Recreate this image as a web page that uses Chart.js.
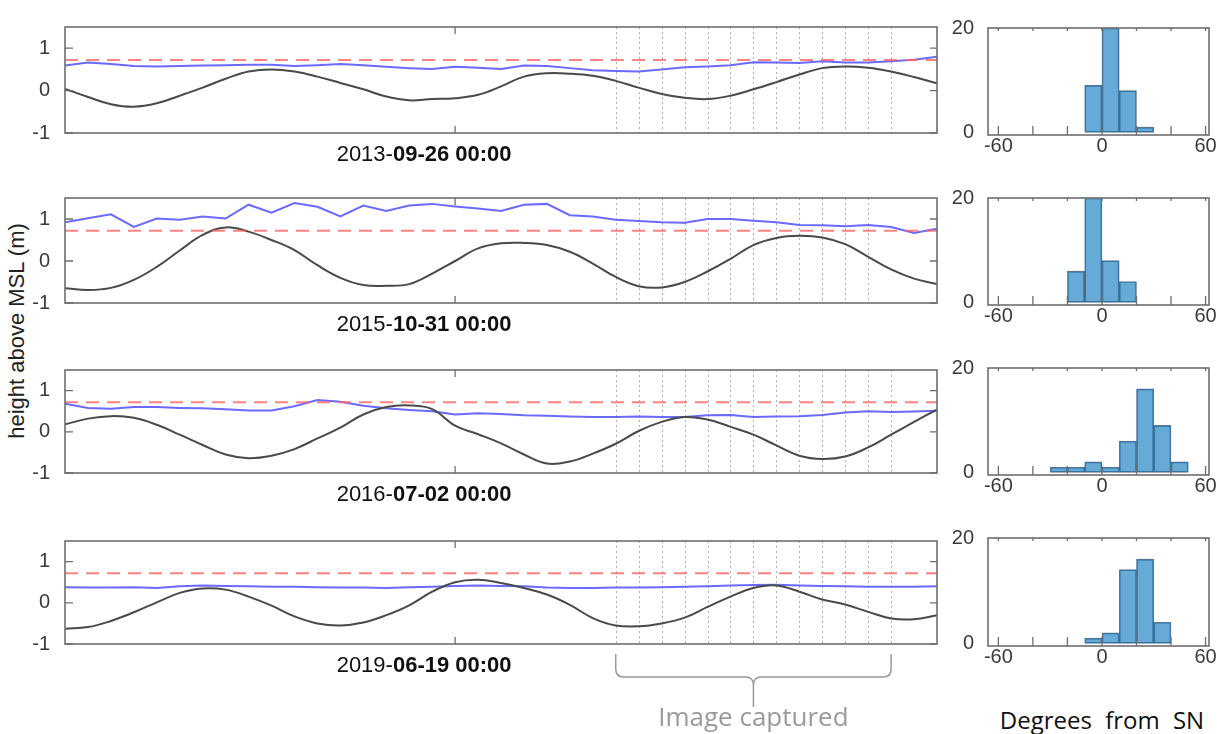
<!DOCTYPE html>
<html>
<head>
<meta charset="utf-8">
<script src="https://cdn.jsdelivr.net/npm/chart.js@4"></script>
<style>
  body { margin: 0; background: #fff; width: 1217px; height: 734px; overflow: hidden; position: relative;
         font-family: "Liberation Sans", Arial, sans-serif; }
  canvas { position: absolute; }
  #ylabel { position: absolute; left: 17px; top: 331px; transform: translate(-50%, -50%) rotate(-90deg);
            white-space: nowrap; font-size: 22px; color: #222; }
  #xlabel { position: absolute; left: 1102px; top: 719px; transform: translate(-50%, -50%);
            white-space: nowrap; font-family: "Open Sans", sans-serif; font-size: 24px; word-spacing: 7px; color: #111; }
</style>
</head>
<body>
<div id="ylabel">height above MSL (m)</div>
<div id="xlabel">Degrees from SN</div>
<script>
// --- data (hours from the start of each window) ---
const hours = [0,1,2,3,4,5,6,7,8,9,10,11,12,13,14,15,16,17,18,19,20,21,22,23,24,25,26,27,28,29,30,31,32,33,34,35,36,37,38];

const tide2013 = [0.04,-0.15,-0.32,-0.38,-0.30,-0.12,0.07,0.28,0.45,0.50,0.45,0.33,0.18,0.03,-0.14,-0.23,-0.20,-0.18,-0.10,0.10,0.33,0.41,0.40,0.35,0.23,0.07,-0.08,-0.17,-0.20,-0.12,0.03,0.20,0.38,0.53,0.57,0.54,0.45,0.32,0.17];
const twl2013  = [0.59,0.66,0.63,0.58,0.57,0.58,0.59,0.60,0.61,0.61,0.58,0.60,0.63,0.60,0.56,0.53,0.51,0.56,0.54,0.51,0.59,0.58,0.53,0.48,0.46,0.45,0.50,0.55,0.57,0.60,0.67,0.66,0.65,0.69,0.66,0.66,0.69,0.73,0.80];

const tide2015 = [-0.65,-0.69,-0.64,-0.45,-0.14,0.25,0.62,0.80,0.70,0.50,0.26,-0.10,-0.40,-0.57,-0.59,-0.55,-0.30,0.00,0.30,0.42,0.43,0.38,0.22,-0.06,-0.38,-0.60,-0.63,-0.50,-0.25,0.05,0.38,0.55,0.60,0.56,0.40,0.10,-0.20,-0.42,-0.55];
const twl2015  = [0.92,1.02,1.11,0.81,1.01,0.98,1.06,1.01,1.34,1.15,1.38,1.29,1.06,1.32,1.19,1.32,1.36,1.30,1.25,1.19,1.34,1.36,1.09,1.06,0.98,0.95,0.92,0.91,1.00,1.00,0.96,0.92,0.86,0.85,0.83,0.86,0.81,0.67,0.77];

const tide2016 = [0.18,0.32,0.38,0.34,0.17,-0.07,-0.32,-0.55,-0.64,-0.58,-0.42,-0.16,0.10,0.42,0.60,0.64,0.55,0.15,-0.06,-0.28,-0.55,-0.77,-0.72,-0.53,-0.29,0.02,0.24,0.36,0.30,0.12,-0.07,-0.33,-0.58,-0.66,-0.60,-0.38,-0.07,0.24,0.54];
const twl2016  = [0.68,0.58,0.56,0.60,0.60,0.58,0.57,0.55,0.52,0.52,0.62,0.77,0.73,0.63,0.57,0.53,0.50,0.42,0.45,0.43,0.40,0.39,0.37,0.36,0.36,0.37,0.36,0.36,0.40,0.41,0.36,0.37,0.38,0.41,0.47,0.50,0.48,0.49,0.51];

const tide2019 = [-0.63,-0.59,-0.44,-0.23,0.01,0.24,0.35,0.32,0.15,-0.07,-0.33,-0.50,-0.55,-0.48,-0.30,-0.06,0.27,0.50,0.56,0.48,0.36,0.20,-0.05,-0.37,-0.55,-0.57,-0.50,-0.36,-0.10,0.15,0.36,0.42,0.27,0.08,-0.04,-0.22,-0.38,-0.40,-0.30];
const twl2019  = [0.38,0.37,0.37,0.38,0.36,0.40,0.42,0.41,0.40,0.39,0.39,0.38,0.37,0.37,0.36,0.38,0.39,0.41,0.42,0.41,0.40,0.37,0.36,0.36,0.37,0.37,0.38,0.39,0.40,0.42,0.43,0.44,0.42,0.41,0.40,0.39,0.39,0.39,0.40];

const threshold = 0.72;
const dateTick = 17;
const yTicks = [-1, 0, 1];
const capture13 = [24,25,26,27,28,29,30,31,32,33,34,35,36];
const capture12 = [24,25,26,27,28,29,30,31,32,33,34,35];
const dateYears = ['2013-', '2015-', '2016-', '2019-'];
const dateDays = ['09-26 00:00', '10-31 00:00', '07-02 00:00', '06-19 00:00'];

// histograms: bin centres (deg) and counts
const binCentres2013 = [-5, 5, 15, 25];
const counts2013 = [9, 20, 8, 1];
const binCentres2015 = [-15, -5, 5, 15];
const counts2015 = [6, 20, 8, 4];
const binCentres2016 = [-25, -15, -5, 5, 15, 25, 35, 45];
const counts2016 = [1, 1, 2, 1, 6, 16, 9, 2];
const binCentres2019 = [-5, 5, 15, 25, 35];
const counts2019 = [1, 2, 14, 16, 4];
const histTicks = [-60, -40, -20, 0, 20, 40, 60];
const histLabels = [-60, 0, 60];
const histYTicks = [0, 20];

const tides = [tide2013, tide2015, tide2016, tide2019];
const twls = [twl2013, twl2015, twl2016, twl2019];
const captures = [capture13, capture12, capture13, capture13];
const histX = [binCentres2013, binCentres2015, binCentres2016, binCentres2019];
const histY = [counts2013, counts2015, counts2016, counts2019];

// --- layout (page pixels) ---
const seriesTop = [18, 189, 361, 532], seriesBottom = [133, 303, 473, 644];
const histTop = [23, 193, 363, 533], histBottom = [135, 305, 475, 646];

Chart.defaults.font.family = '"Liberation Sans", Arial, sans-serif';
Chart.defaults.font.size = 20;
Chart.defaults.color = '#3a3a3a';

function addCanvas(left, top, w, h) {
  const c = document.createElement('canvas');
  c.width = w; c.height = h;
  c.style.left = left + 'px'; c.style.top = top + 'px';
  c.style.width = w + 'px'; c.style.height = h + 'px';
  document.body.appendChild(c);
  return c;
}

// box + inward ticks, matlab style
const frameTicks = {
  id: 'frameTicks',
  afterDatasetsDraw(chart, args, o) {
    const { ctx, chartArea: a, scales: { x, y } } = chart;
    ctx.save();
    ctx.strokeStyle = '#6e6e6e';
    ctx.lineWidth = 1.3;
    ctx.beginPath();
    x.ticks.forEach(t => {
      const px = x.getPixelForValue(t.value);
      ctx.moveTo(px, a.bottom); ctx.lineTo(px, a.bottom - o.xBottom);
      ctx.moveTo(px, a.top); ctx.lineTo(px, a.top + o.xTop);
    });
    if (o.yLeft) y.ticks.forEach(t => {
      const py = y.getPixelForValue(t.value);
      ctx.moveTo(a.left, py); ctx.lineTo(a.left + o.yLeft, py);
      ctx.moveTo(a.right, py); ctx.lineTo(a.right - o.yRight, py);
    });
    ctx.stroke();
    ctx.lineWidth = 1.6;
    ctx.strokeRect(a.left, a.top, a.right - a.left, a.bottom - a.top);
    ctx.restore();
  }
};

const captureLines = {
  id: 'captureLines',
  beforeDatasetsDraw(chart, args, o) {
    const { ctx, chartArea: a, scales: { x } } = chart;
    ctx.save();
    ctx.strokeStyle = '#b0b0b0';
    ctx.lineWidth = 1;
    ctx.setLineDash([2, 3]);
    o.hours.forEach(h => {
      const px = Math.round(x.getPixelForValue(h)) + 0.5;
      ctx.beginPath(); ctx.moveTo(px, a.top); ctx.lineTo(px, a.bottom); ctx.stroke();
    });
    ctx.restore();
  }
};

const dateLabel = {
  id: 'dateLabel',
  afterDraw(chart, args, o) {
    const { ctx, chartArea: a, scales: { x } } = chart;
    const cx = x.getPixelForValue(dateTick) - 31;
    const cy = a.bottom + 22;
    const fam = '"Liberation Sans", Arial, sans-serif';
    ctx.save();
    ctx.font = '22px ' + fam;
    const w1 = ctx.measureText(o.year).width;
    ctx.font = 'bold 22px ' + fam;
    const w2 = ctx.measureText(o.day).width;
    const left = cx - (w1 + w2) / 2;
    ctx.fillStyle = '#111';
    ctx.textBaseline = 'middle';
    ctx.font = '22px ' + fam;
    ctx.fillText(o.year, left, cy);
    ctx.font = 'bold 22px ' + fam;
    ctx.fillText(o.day, left + w1, cy);
    ctx.restore();
  }
};

const bracket = {
  id: 'bracket',
  afterDraw(chart, args, o) {
    const { ctx, chartArea: a, scales: { x } } = chart;
    const x0 = x.getPixelForValue(o.from), x1 = x.getPixelForValue(o.to);
    const xm = (x0 + x1) / 2;
    const yTop = a.bottom + 10, yMid = a.bottom + 33, yEnd = a.bottom + 63, r = 8;
    ctx.save();
    ctx.strokeStyle = '#9a9a9a';
    ctx.lineWidth = 1.5;
    ctx.beginPath();
    ctx.moveTo(x0, yTop); ctx.lineTo(x0, yMid - r); ctx.quadraticCurveTo(x0, yMid, x0 + r, yMid);
    ctx.lineTo(xm - r, yMid); ctx.quadraticCurveTo(xm, yMid, xm, yMid + r); ctx.lineTo(xm, yEnd);
    ctx.moveTo(x1, yTop); ctx.lineTo(x1, yMid - r); ctx.quadraticCurveTo(x1, yMid, x1 - r, yMid);
    ctx.lineTo(xm + r, yMid); ctx.quadraticCurveTo(xm, yMid, xm, yMid + r);
    ctx.stroke();
    ctx.fillStyle = '#9a9a9a';
    ctx.font = '26px "Open Sans", sans-serif';
    ctx.textAlign = 'center';
    ctx.textBaseline = 'middle';
    ctx.fillText(o.text, xm, a.bottom + 75);
    ctx.restore();
  }
};

function seriesChart(i) {
  const top = seriesTop[i] - 10;
  const height = i === 3 ? 734 - top : 170;
  const areaH = seriesBottom[i] - seriesTop[i];
  const cv = addCanvas(0, top, 945, height);
  const pts = arr => hours.map((h, k) => ({ x: h, y: arr[k] }));
  new Chart(cv, {
    type: 'line',
    data: {
      datasets: [
        { data: [{ x: hours[0], y: threshold }, { x: hours[hours.length - 1], y: threshold }],
          borderColor: 'rgba(255,100,100,0.8)', borderDash: [13, 8], borderWidth: 2, pointRadius: 0 },
        { data: pts(tides[i]), borderColor: '#4a4a4a', borderWidth: 2, tension: 0.4, pointRadius: 0 },
        { data: pts(twls[i]), borderColor: 'rgba(80,80,255,0.85)', borderWidth: 2, tension: 0, pointRadius: 0 }
      ]
    },
    options: {
      responsive: false, animation: false, devicePixelRatio: 1,
      layout: { padding: { top: 10, right: 8, left: 0, bottom: 0 } },
      plugins: {
        legend: { display: false }, tooltip: { enabled: false },
        frameTicks: { xBottom: 7, xTop: 7, yLeft: 8, yRight: 7 },
        captureLines: { hours: captures[i] },
        dateLabel: { year: dateYears[i], day: dateDays[i] },
        bracket: { from: capture13[0], to: capture13[capture13.length - 1], text: 'Image captured' }
      },
      scales: {
        x: {
          type: 'linear', min: 0, max: 38,
          grid: { display: false }, border: { display: false }, ticks: { display: false },
          afterBuildTicks: s => { s.ticks = [{ value: dateTick }]; },
          afterFit: s => { s.height = height - 10 - areaH; }
        },
        y: {
          min: -1, max: 1.5,
          grid: { display: false }, border: { display: false },
          ticks: { padding: 7 },
          afterBuildTicks: s => { s.ticks = yTicks.map(v => ({ value: v })); },
          afterFit: s => { s.width = 65; }
        }
      }
    },
    plugins: i === 3 ? [captureLines, frameTicks, dateLabel, bracket] : [captureLines, frameTicks, dateLabel]
  });
}

function histChart(i) {
  const top = histTop[i] - 13;
  const height = 170;
  const areaH = histBottom[i] - histTop[i];
  const cv = addCanvas(945, top, 272, height);
  new Chart(cv, {
    type: 'bar',
    data: {
      datasets: [{
        data: histX[i].map((c, k) => ({ x: c, y: histY[i][k] })),
        backgroundColor: 'rgba(0,114,189,0.6)', borderColor: 'rgba(25,60,95,0.7)',
        borderWidth: 1, borderSkipped: false, barPercentage: 1, categoryPercentage: 1, grouped: false
      }]
    },
    options: {
      responsive: false, animation: false, devicePixelRatio: 1,
      layout: { padding: { top: 13, right: 8, left: 0, bottom: 0 } },
      plugins: { legend: { display: false }, tooltip: { enabled: false },
                 frameTicks: { xBottom: 9, xTop: 3, yLeft: 0 } },
      scales: {
        x: {
          type: 'linear', min: -66, max: 62, offset: false,
          grid: { display: false }, border: { display: false },
          ticks: { autoSkip: false, maxRotation: 0, padding: -9,
                   callback: v => histLabels.includes(v) ? String(v) : '' },
          afterBuildTicks: s => { s.ticks = histTicks.map(v => ({ value: v })); },
          afterFit: s => { s.height = height - 13 - areaH; }
        },
        y: {
          min: -0.5, max: 20,
          grid: { display: false }, border: { display: false },
          ticks: { padding: 6 },
          afterBuildTicks: s => { s.ticks = histYTicks.map(v => ({ value: v })); },
          afterFit: s => { s.width = 43; }
        }
      }
    },
    plugins: [frameTicks]
  });
}

for (let i = 0; i < 4; i++) { seriesChart(i); histChart(i); }
</script>
</body>
</html>
